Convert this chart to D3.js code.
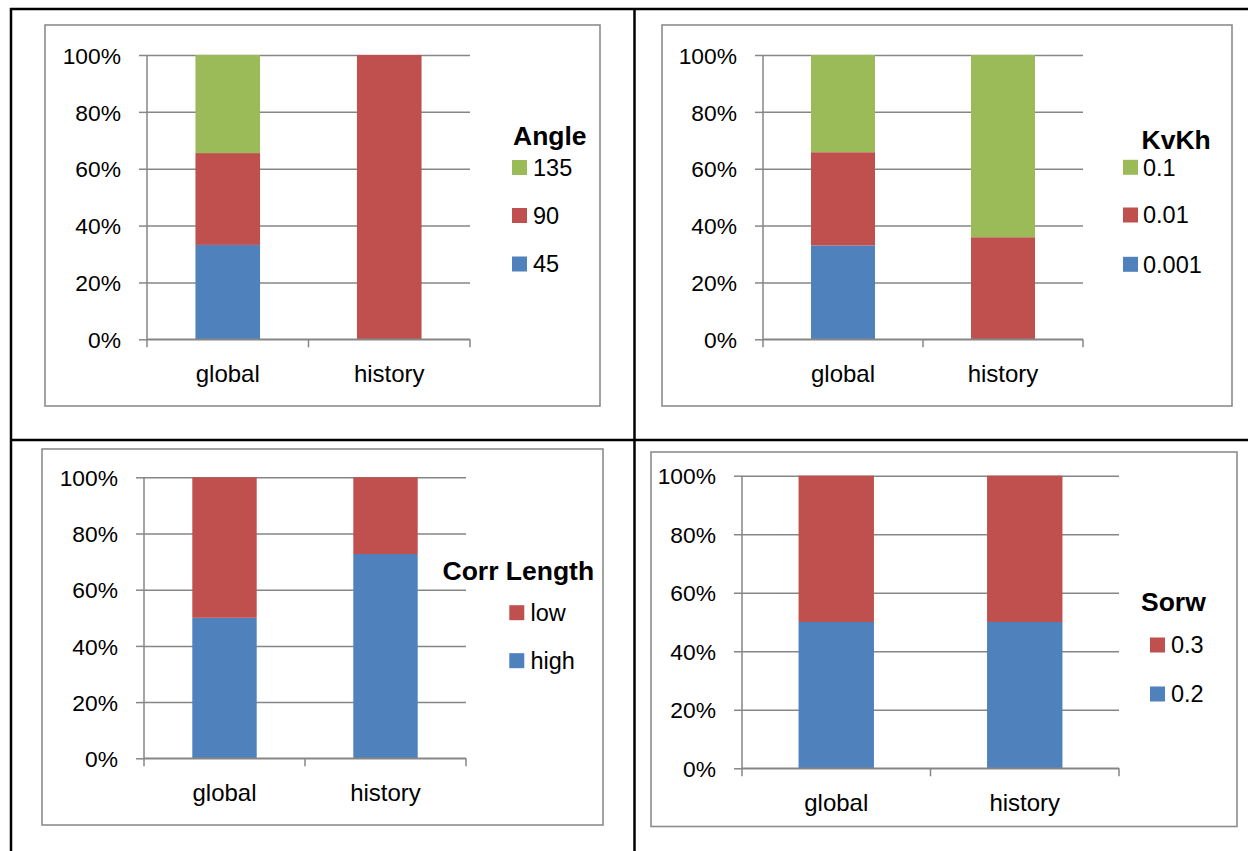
<!DOCTYPE html>
<html>
<head>
<meta charset="utf-8">
<script src="https://cdn.jsdelivr.net/npm/d3@7"></script>
<style>
  html, body { margin: 0; padding: 0; background: #fff; }
  svg { display: block; }
  text { font-family: "Liberation Sans", Arial, sans-serif; fill: #000; }
</style>
</head>
<body>
<svg id="chart" width="1248" height="851"></svg>
<script>
// ---- data -------------------------------------------------------------
const categories = ["global", "history"];
const yTickValues = [0, 20, 40, 60, 80, 100];

// each series: share (%) for [global, history]
const angleTitle = "Angle";
const angleSeries = ["45", "90", "135"];
const angleValues = [[33.2, 0], [32.3, 100], [34.5, 0]];

const kvkhTitle = "KvKh";
const kvkhSeries = ["0.001", "0.01", "0.1"];
const kvkhValues = [[33.0, 0], [32.8, 35.9], [34.2, 64.1]];

const corrTitle = "Corr Length";
const corrSeries = ["high", "low"];
const corrValues = [[50, 72.7], [50, 27.3]];

const sorwTitle = "Sorw";
const sorwSeries = ["0.2", "0.3"];
const sorwValues = [[50, 50], [50, 50]];

const seriesColors = ["#4F81BD", "#C0504D", "#9BBB59"];

// ---- layout -----------------------------------------------------------
const panels = [
  { title: angleTitle, series: angleSeries, values: angleValues,
    box: [45, 25, 600, 406], plot: [147, 470, 55, 339.3],
    legend: { titleX: 513, titleY: 145, swatchX: 512, textX: 533, rows: [167.5, 215.5, 264] } },
  { title: kvkhTitle, series: kvkhSeries, values: kvkhValues,
    box: [662, 25, 1232, 406], plot: [763, 1083, 55, 339.3],
    legend: { titleX: 1141.5, titleY: 148.5, swatchX: 1123, textX: 1143, rows: [167.3, 215, 264.3] } },
  { title: corrTitle, series: corrSeries, values: corrValues,
    box: [42, 449, 603, 825], plot: [144, 466, 477.3, 758.3],
    legend: { titleX: 442.5, titleY: 580, swatchX: 509.3, textX: 530.5, rows: [612.7, 660.7] } },
  { title: sorwTitle, series: sorwSeries, values: sorwValues,
    box: [651, 452, 1237, 826.5], plot: [742, 1119, 475.7, 768.3],
    legend: { titleX: 1141, titleY: 611, swatchX: 1150, textX: 1171, rows: [645, 694] } }
];

const svg = d3.select("#chart");
const axisGrey = "#868686";

// ---- table frame ------------------------------------------------------
const frame = svg.append("g").attr("stroke", "#000").attr("stroke-width", 2.5);
frame.append("line").attr("x1", 10).attr("x2", 1248).attr("y1", 9).attr("y2", 9);
frame.append("line").attr("x1", 11).attr("x2", 11).attr("y1", 8).attr("y2", 851);
frame.append("line").attr("x1", 634.5).attr("x2", 634.5).attr("y1", 8).attr("y2", 851);
frame.append("line").attr("x1", 10).attr("x2", 1248).attr("y1", 440).attr("y2", 440);

// ---- panels -----------------------------------------------------------
panels.forEach(p => {
  const g = svg.append("g");
  const [bx0, by0, bx1, by1] = p.box;
  const [px0, px1, pyTop, pyBottom] = p.plot;

  // chart area border
  g.append("rect")
    .attr("x", bx0).attr("y", by0)
    .attr("width", bx1 - bx0).attr("height", by1 - by0)
    .attr("fill", "#fff").attr("stroke", "#8c8c8c").attr("stroke-width", 1.6);

  const x = d3.scaleBand().domain(categories).range([px0, px1]).paddingInner(0.6).paddingOuter(0.3);
  const y = d3.scaleLinear().domain([0, 100]).range([pyBottom, pyTop]);

  // gridlines + y axis
  const yAxis = d3.axisLeft(y).tickValues(yTickValues).tickFormat(d => d + "%")
    .tickSize(-(px1 - px0)).tickPadding(26);
  const ya = g.append("g").attr("transform", `translate(${px0},0)`).call(yAxis);
  ya.select(".domain").remove();
  ya.selectAll(".tick line").attr("stroke", axisGrey).attr("stroke-width", 1.5);
  ya.selectAll(".tick").append("line")
    .attr("x1", -8).attr("x2", 0).attr("stroke", axisGrey).attr("stroke-width", 1.5);
  ya.selectAll(".tick text")
    .attr("font-size", 22.8).attr("font-family", "Liberation Sans, Arial, sans-serif")
    .attr("fill", "#000").attr("dy", "0.36em");

  // stacked bars
  const rows = categories.map((c, ci) => {
    const r = { category: c };
    p.series.forEach((s, si) => { r[s] = p.values[si][ci]; });
    return r;
  });
  const stacked = d3.stack().keys(p.series)(rows);
  g.append("g").selectAll("g").data(stacked).join("g")
    .attr("fill", (d, i) => seriesColors[i])
    .selectAll("rect").data(d => d).join("rect")
    .attr("x", d => x(d.data.category))
    .attr("width", x.bandwidth())
    .attr("y", d => y(d[1]))
    .attr("height", d => y(d[0]) - y(d[1]));

  // vertical axis line
  g.append("line").attr("x1", px0).attr("x2", px0).attr("y1", pyTop).attr("y2", pyBottom)
    .attr("stroke", axisGrey).attr("stroke-width", 1.5);

  // x axis: baseline with ticks at category boundaries
  const step = (px1 - px0) / categories.length;
  g.append("line").attr("x1", px0).attr("x2", px1).attr("y1", pyBottom).attr("y2", pyBottom)
    .attr("stroke", axisGrey).attr("stroke-width", 1.5);
  d3.range(categories.length + 1).forEach(i => {
    g.append("line").attr("x1", px0 + i * step).attr("x2", px0 + i * step)
      .attr("y1", pyBottom).attr("y2", pyBottom + 8)
      .attr("stroke", axisGrey).attr("stroke-width", 1.5);
  });
  g.selectAll(".cat").data(categories).join("text")
    .attr("class", "cat")
    .attr("x", d => x(d) + x.bandwidth() / 2)
    .attr("y", pyBottom + 43)
    .attr("text-anchor", "middle")
    .attr("font-size", 24)
    .text(d => d);

  // legend (series listed top-down in reverse order)
  const L = p.legend;
  g.append("text").attr("x", L.titleX).attr("y", L.titleY)
    .attr("font-size", 26.5).attr("font-weight", "bold").text(p.title);
  const order = p.series.map((s, i) => ({ s, i })).reverse();
  order.forEach((o, k) => {
    const cy = L.rows[k];
    g.append("rect").attr("x", L.swatchX).attr("y", cy - 7.5)
      .attr("width", 15).attr("height", 15).attr("fill", seriesColors[o.i]);
    g.append("text").attr("x", L.textX).attr("y", cy).attr("dy", "0.36em")
      .attr("font-size", 23.5).text(o.s);
  });
});
</script>
</body>
</html>
